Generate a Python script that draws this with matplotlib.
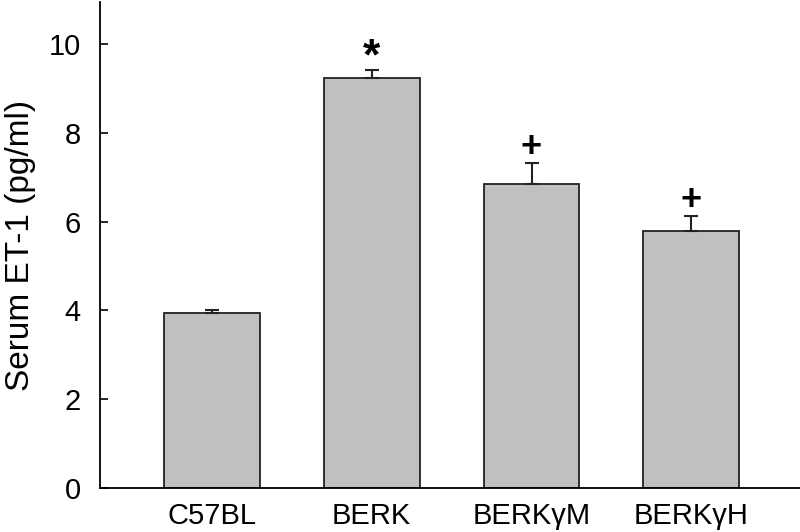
import matplotlib.pyplot as plt

# values
groups = ["C57BL", "BERK", "BERKγM", "BERKγH"]
means = [3.95, 9.23, 6.85, 5.78]
sems = [0.07, 0.19, 0.47, 0.35]
marks = ["", "*", "+", "+"]

plt.rcParams['font.family'] = ['Liberation Sans', 'DejaVu Sans']

fig = plt.figure(figsize=(8, 5.32), dpi=100)
ax = fig.add_axes([0.125, 0.0827, 0.875, 0.9135])

x = list(range(len(groups)))
ax.bar(x, means, width=0.6, color='#c0c0c0', edgecolor='#222222', linewidth=1.3, zorder=2)
ax.errorbar(x, means, yerr=[[0] * len(sems), sems], fmt='none', ecolor='#222222',
            elinewidth=1.5, capsize=4.7, capthick=1.5, zorder=3)

for xi, m, s, t in zip(x, means, sems, marks):
    if t:
        ax.annotate(t, (xi, m + s), xytext=(0, 11 if t == "+" else 9), textcoords='offset points',
                    ha='center', va='center', fontsize=32 if t == "*" else 26, fontweight='bold')

ax.set_xlim(-0.70, 3.68)
ax.set_ylim(0, 10.95)
ax.set_yticks([0, 2, 4, 6, 8, 10])
ax.set_xticks(x)
ax.set_xticklabels(groups, fontsize=21)
ax.tick_params(axis='x', length=0, pad=10)
ax.tick_params(axis='y', direction='in', length=6, width=1.2, labelsize=21, pad=14)
ax.set_ylabel("Serum ET-1 (pg/ml)", fontsize=24, labelpad=9)

for side in ['top', 'right']:
    ax.spines[side].set_visible(False)
for side in ['left', 'bottom']:
    ax.spines[side].set_linewidth(1.3)

fig.savefig("out.png", dpi=100)
